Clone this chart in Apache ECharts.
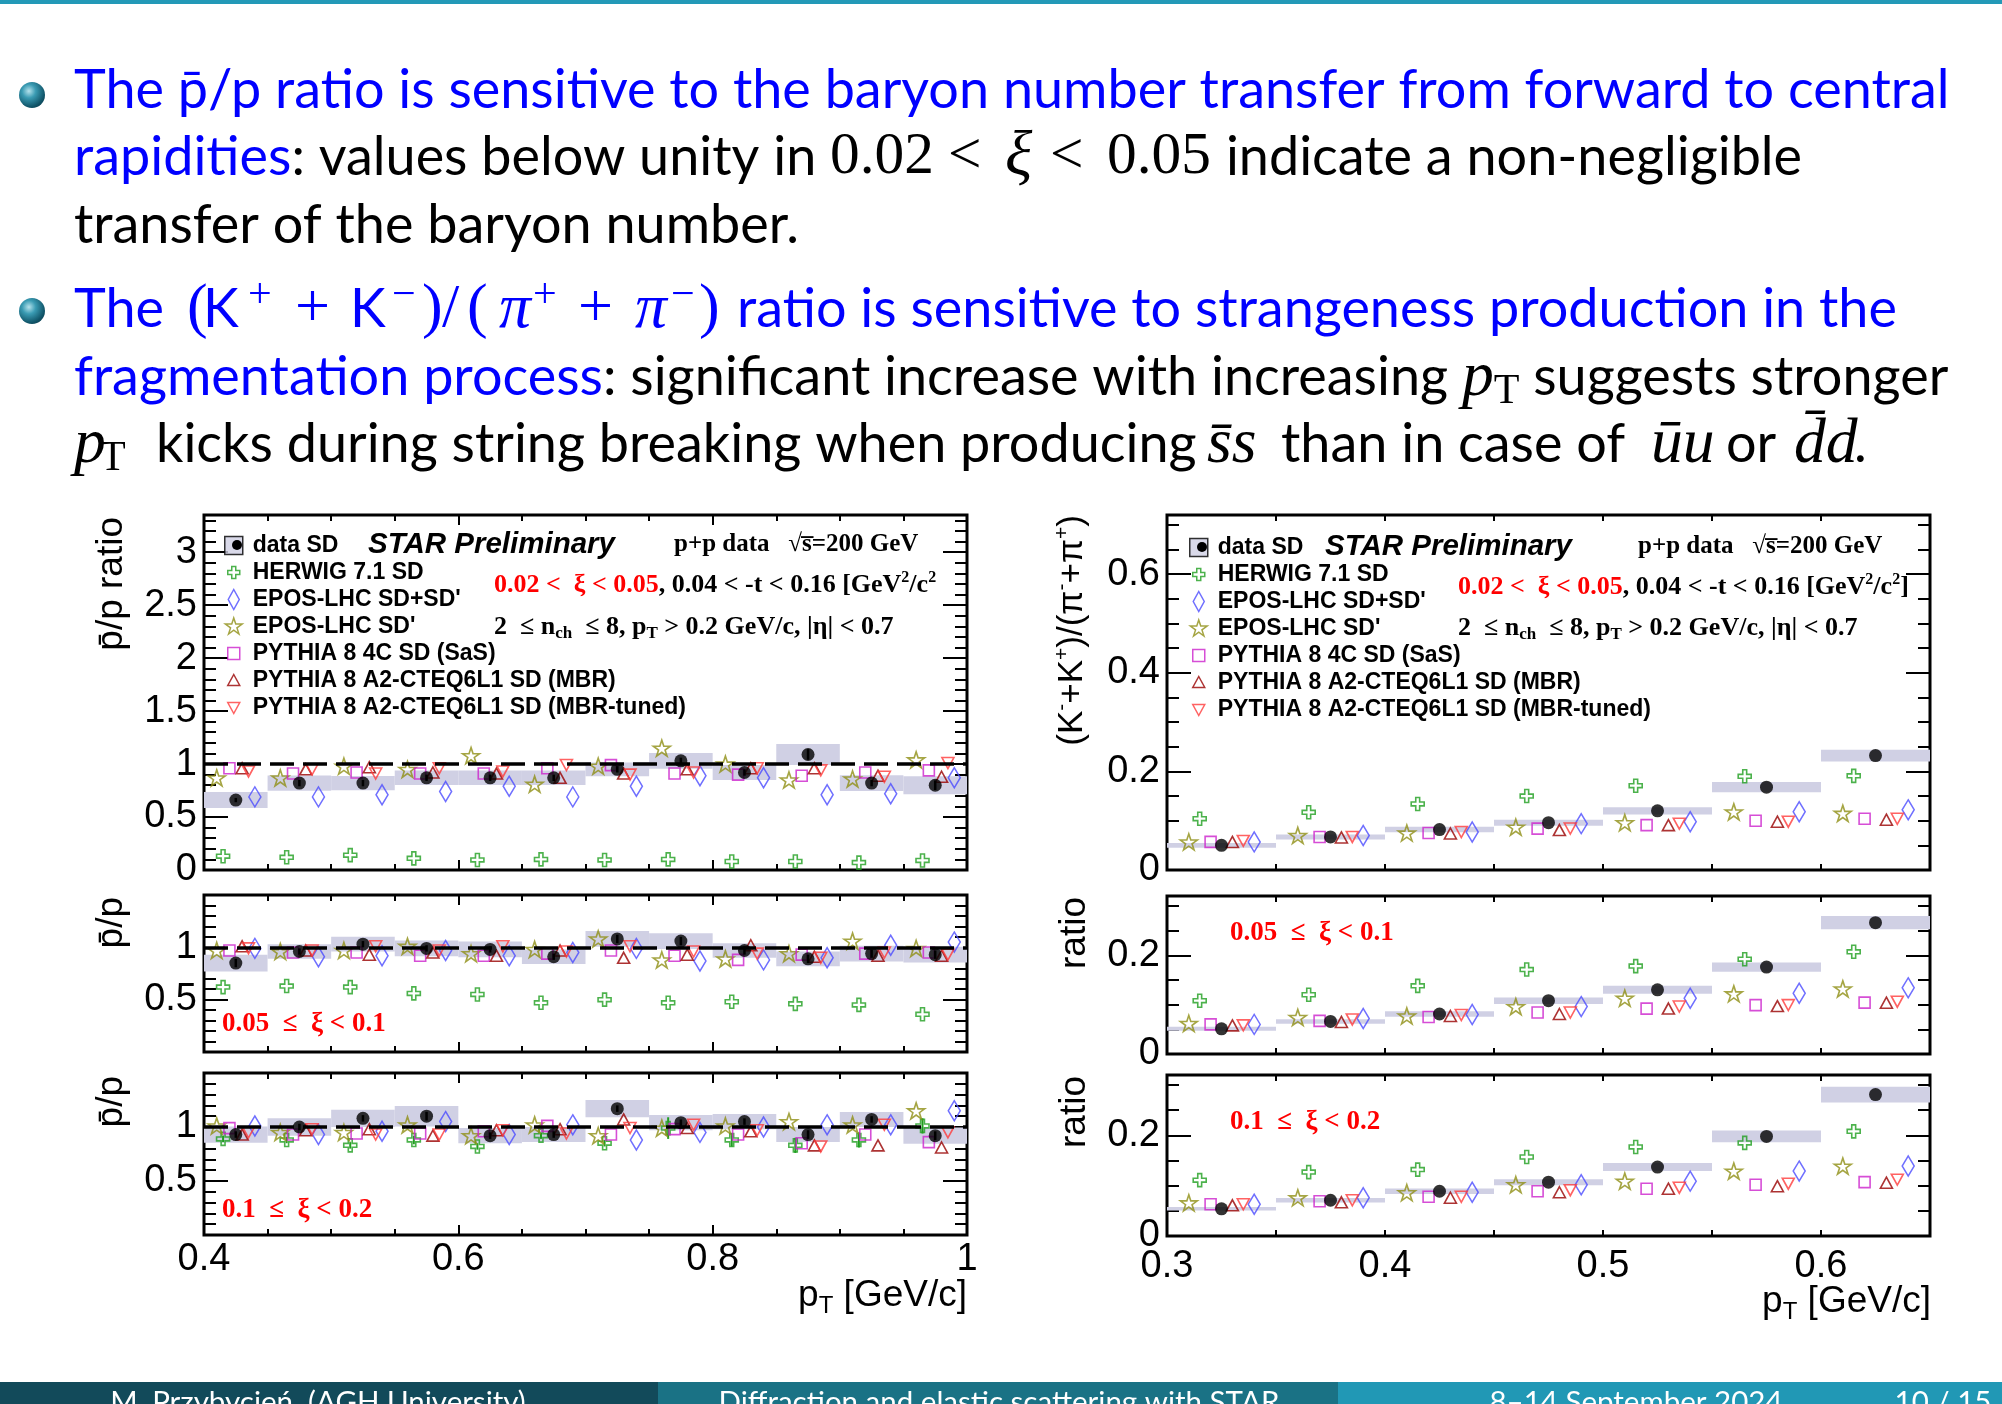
<!DOCTYPE html>
<html>
<head>
<meta charset="utf-8">
<title>STAR SD: p̄/p and (K⁻+K⁺)/(π⁻+π⁺) ratios</title>
<script src="https://cdn.jsdelivr.net/npm/echarts@6.0.0/dist/echarts.min.js"></script>
<style>
html,body{margin:0;padding:0;background:#fff;}
#chart{width:2002px;height:1404px;}
</style>
</head>
<body>
<div id="chart"></div>
<script>
// ================= DATA =================
const ppBinLow = [0.40,0.45,0.50,0.55,0.60,0.65,0.70,0.75,0.80,0.85,0.90,0.95];
const kpBinLow = [0.30,0.35,0.40,0.45,0.50,0.55,0.60];
const binWidth = 0.05;
const dataName = 'data SD';
const modelNames = ['HERWIG 7.1 SD', "EPOS-LHC SD+SD'", "EPOS-LHC SD'", 'PYTHIA 8 4C SD (SaS)', 'PYTHIA 8 A2-CTEQ6L1 SD (MBR)', 'PYTHIA 8 A2-CTEQ6L1 SD (MBR-tuned)'];

// pbar/p, 0.02 < xi < 0.05
const ppXi1Data    = [0.66,0.82,0.82,0.87,0.87,0.87,0.95,1.03,0.92,1.09,0.82,0.80];
const ppXi1Sys     = [0.075,0.072,0.068,0.068,0.068,0.068,0.065,0.075,0.07,0.10,0.075,0.085];
const ppXi1Stat    = [0.02,0.03,0.03,0.03,0.03,0.03,0.03,0.03,0.03,0.05,0.03,0.045];
const ppXi1Herwig  = [0.13,0.12,0.14,0.11,0.095,0.10,0.095,0.10,0.08,0.08,0.07,0.09];
const ppXi1EposAll = [0.69,0.69,0.71,0.74,0.79,0.69,0.79,0.89,0.87,0.71,0.72,0.87];
const ppXi1EposSDp = [0.87,0.87,0.98,0.95,1.08,0.81,0.98,1.15,1.00,0.85,0.86,1.04];
const ppXi1Py4C    = [0.96,0.91,0.92,0.91,0.91,0.96,0.99,0.91,0.90,0.89,0.92,0.94];
const ppXi1PyMBR   = [0.96,0.95,0.97,0.92,0.91,0.87,0.91,0.95,0.96,0.96,0.89,0.88];
const ppXi1PyMBRt  = [0.93,0.95,0.91,0.96,0.93,0.99,0.90,0.92,0.96,0.94,0.88,1.01];

// pbar/p, 0.05 <= xi < 0.1
const ppXi2Data    = [0.85,0.96,1.03,0.99,0.98,0.91,1.08,1.06,0.97,0.89,0.94,0.93];
const ppXi2Sys     = [0.08,0.07,0.07,0.075,0.075,0.07,0.075,0.075,0.07,0.07,0.075,0.075];
const ppXi2Stat    = [0.04,0.03,0.03,0.03,0.03,0.03,0.04,0.04,0.04,0.04,0.04,0.04];
const ppXi2Herwig  = [0.62,0.63,0.62,0.56,0.55,0.47,0.50,0.47,0.48,0.46,0.45,0.36];
const ppXi2EposAll = [0.99,0.91,0.92,0.97,0.92,0.95,0.99,0.87,0.88,0.90,1.02,1.05];
const ppXi2EposSDp = [0.97,0.96,0.97,1.01,0.94,0.98,1.08,0.88,0.89,0.94,1.06,0.99];
const ppXi2Py4C    = [0.97,0.95,0.95,0.92,0.92,0.94,0.97,0.92,0.88,0.93,0.94,0.95];
const ppXi2PyMBR   = [1.01,0.97,0.93,0.95,0.92,0.97,0.90,0.93,1.02,0.91,0.92,0.92];
const ppXi2PyMBRt  = [0.99,0.97,1.01,0.97,1.01,0.96,1.01,0.96,0.94,0.90,0.95,0.93];

// pbar/p, 0.1 <= xi < 0.2
const ppXi3Data    = [0.93,1.00,1.08,1.10,0.92,0.93,1.17,1.04,1.05,0.93,1.07,0.92];
const ppXi3Sys     = [0.075,0.08,0.08,0.095,0.07,0.07,0.08,0.07,0.07,0.07,0.07,0.075];
const ppXi3Stat    = [0.03,0.03,0.03,0.04,0.03,0.03,0.03,0.03,0.03,0.04,0.03,0.04];
const ppXi3Herwig  = [0.89,0.88,0.83,0.88,0.82,0.92,0.85,0.99,0.88,0.83,0.88,1.01];
const ppXi3HerwigErr = [0.03,0.03,0.03,0.04,0.03,0.03,0.03,0.10,0.06,0.07,0.07,0.07];
const ppXi3EposAll = [1.01,0.93,0.96,1.05,0.93,1.02,0.88,0.95,1.00,1.02,1.02,1.15];
const ppXi3EposSDp = [1.01,0.95,0.95,1.02,0.92,1.02,0.92,0.99,1.01,1.05,1.02,1.15];
const ppXi3Py4C    = [0.99,0.93,0.94,0.94,0.96,1.01,0.93,0.98,0.93,0.85,0.93,0.86];
const ppXi3PyMBR   = [0.93,0.97,0.98,0.92,0.97,0.98,1.07,0.99,0.96,0.83,0.83,0.81];
const ppXi3PyMBRt  = [0.95,0.98,0.93,0.93,0.97,0.94,0.99,1.02,0.97,0.82,1.02,0.95];

// (K-+K+)/(pi-+pi+), 0.02 < xi < 0.05
const kpXi1Data    = [0.050,0.067,0.082,0.096,0.120,0.168,0.232];
const kpXi1Sys     = [0.005,0.005,0.0055,0.006,0.0075,0.0105,0.012];
const kpXi1Herwig  = [0.104,0.117,0.134,0.150,0.171,0.190,0.191];
const kpXi1EposAll = [0.057,0.070,0.077,0.094,0.098,0.118,0.122];
const kpXi1EposSDp = [0.057,0.070,0.075,0.087,0.096,0.118,0.115];
const kpXi1Py4C    = [0.057,0.067,0.075,0.084,0.091,0.100,0.104];
const kpXi1PyMBR   = [0.057,0.066,0.074,0.081,0.091,0.098,0.102];
const kpXi1PyMBRt  = [0.059,0.067,0.077,0.084,0.094,0.098,0.104];

// (K-+K+)/(pi-+pi+), 0.05 <= xi < 0.1
const kpXi2Data    = [0.051,0.066,0.081,0.108,0.130,0.176,0.266];
const kpXi2Sys     = [0.004,0.0045,0.0055,0.0065,0.008,0.0095,0.0135];
const kpXi2Herwig  = [0.108,0.120,0.138,0.171,0.178,0.192,0.207];
const kpXi2EposAll = [0.060,0.072,0.080,0.096,0.113,0.123,0.134];
const kpXi2EposSDp = [0.062,0.074,0.077,0.096,0.113,0.122,0.132];
const kpXi2Py4C    = [0.060,0.067,0.075,0.084,0.092,0.099,0.104];
const kpXi2PyMBR   = [0.058,0.065,0.077,0.081,0.092,0.097,0.104];
const kpXi2PyMBRt  = [0.058,0.070,0.079,0.084,0.096,0.099,0.106];

// (K-+K+)/(pi-+pi+), 0.1 <= xi < 0.2
const kpXi3Data    = [0.054,0.071,0.089,0.107,0.137,0.198,0.281];
const kpXi3Sys     = [0.0035,0.0045,0.0055,0.006,0.008,0.0115,0.0155];
const kpXi3Herwig  = [0.111,0.127,0.132,0.157,0.177,0.185,0.208];
const kpXi3EposAll = [0.063,0.076,0.087,0.102,0.109,0.129,0.139];
const kpXi3EposSDp = [0.066,0.076,0.086,0.102,0.109,0.129,0.139];
const kpXi3Py4C    = [0.063,0.069,0.078,0.089,0.094,0.102,0.107];
const kpXi3PyMBR   = [0.061,0.067,0.076,0.087,0.094,0.099,0.106];
const kpXi3PyMBRt  = [0.063,0.071,0.078,0.091,0.096,0.104,0.112];

// ================= STYLE / LAYOUT =================
const crossPath   = 'path://M3.5,0H6.5V3.5H10V6.5H6.5V10H3.5V6.5H0V3.5H3.5Z';
const starPath    = 'path://M50,0L61.2,34.5L97.6,34.5L68.2,55.9L79.4,90.5L50,69.1L20.6,90.5L31.8,55.9L2.4,34.5L38.8,34.5Z';
const diamondPath = 'path://M5,0L10,10L5,20L0,10Z';
const triUpPath   = 'path://M5,0L10,9L0,9Z';
const triDownPath = 'path://M0,0L10,0L5,9Z';
const squarePath  = 'path://M0,0H10V10H0Z';
// legend icons drawn inside a fixed 20x20 box (leading moveTo points fix the box)
const LB = 'path://M0,0M20,20';
const legendIcons = [
  LB + 'M8,4H12V8H16V12H12V16H8V12H4V8H8Z',
  LB + 'M10,0L15.5,10L10,20L4.5,10Z',
  LB + 'M10,1.5L12,7.6L18.4,7.6L13.2,11.4L15.2,17.5L10,13.7L4.8,17.5L6.8,11.4L1.6,7.6L8,7.6Z',
  LB + 'M4,4H16V16H4Z',
  LB + 'M10,4L16,15L4,15Z',
  LB + 'M4,5L16,5L10,16Z'
];
const dataLegendIcon = LB + 'M1,1H19V19H1Z';

const modelStyles = [
  {symbol: crossPath,   size: [13,13], color: '#1f9f1f', off: 0.3},
  {symbol: diamondPath, size: [12,20], color: '#4b4bff', off: 0.8},
  {symbol: starPath,    size: [17,16], color: '#8f8f14', off: 0.2},
  {symbol: squarePath,  size: [11,11], color: '#cc22cc', off: 0.4},
  {symbol: triUpPath,   size: [12,11], color: '#990000', off: 0.6},
  {symbol: triDownPath, size: [12,11], color: '#ff3b3b', off: 0.7}
];
const boxColor = '#d0d0e4';

const axisCfg = {
  ppTop: {x:[0.4,1.0], xMajor:0.2, xMinor:0.05, xLab:false, xMajLen:10, xMinLen:6, xShowMax:true,  y:[0,3.35], yMajor:0.5, yMinor:0.1,  yMinLab:true},
  ppMid: {x:[0.4,1.0], xMajor:0.2, xMinor:0.05, xLab:false, xMajLen:10, xMinLen:6, xShowMax:true,  y:[0,1.5],  yMajor:0.5, yMinor:0.1,  yMinLab:false},
  ppBot: {x:[0.4,1.0], xMajor:0.2, xMinor:0.05, xLab:true,  xMajLen:10, xMinLen:6, xShowMax:true,  y:[0,1.5],  yMajor:0.5, yMinor:0.1,  yMinLab:false, xMargin:6},
  kpTop: {x:[0.3,0.65], xMajor:0.1, xMinor:0.05, xLab:false, xMajLen:6, xMinLen:6, xShowMax:false, y:[0,0.72], yMajor:0.2, yMinor:0.05, yMinLab:true},
  kpMid: {x:[0.3,0.65], xMajor:0.1, xMinor:0.05, xLab:false, xMajLen:6, xMinLen:6, xShowMax:false, y:[0,0.32], yMajor:0.2, yMinor:0.05, yMinLab:true},
  kpBot: {x:[0.3,0.65], xMajor:0.1, xMinor:0.05, xLab:true,  xMajLen:6, xMinLen:6, xShowMax:false, y:[0,0.32], yMajor:0.2, yMinor:0.05, yMinLab:true, xMargin:12}
};

const panels = [
  {box:[204,515,763,355], axes:'ppTop', bins:ppBinLow, data:ppXi1Data, sys:ppXi1Sys, stat:ppXi1Stat, unity:true,
   models:[ppXi1Herwig,ppXi1EposAll,ppXi1EposSDp,ppXi1Py4C,ppXi1PyMBR,ppXi1PyMBRt]},
  {box:[204,895,763,157], axes:'ppMid', bins:ppBinLow, data:ppXi2Data, sys:ppXi2Sys, stat:ppXi2Stat, unity:true,
   models:[ppXi2Herwig,ppXi2EposAll,ppXi2EposSDp,ppXi2Py4C,ppXi2PyMBR,ppXi2PyMBRt]},
  {box:[204,1073,763,162], axes:'ppBot', bins:ppBinLow, data:ppXi3Data, sys:ppXi3Sys, stat:ppXi3Stat, unity:true, herwigErr:ppXi3HerwigErr,
   models:[ppXi3Herwig,ppXi3EposAll,ppXi3EposSDp,ppXi3Py4C,ppXi3PyMBR,ppXi3PyMBRt]},
  {box:[1167,515,763,355], axes:'kpTop', bins:kpBinLow, data:kpXi1Data, sys:kpXi1Sys,
   models:[kpXi1Herwig,kpXi1EposAll,kpXi1EposSDp,kpXi1Py4C,kpXi1PyMBR,kpXi1PyMBRt]},
  {box:[1167,896,763,158], axes:'kpMid', bins:kpBinLow, data:kpXi2Data, sys:kpXi2Sys,
   models:[kpXi2Herwig,kpXi2EposAll,kpXi2EposSDp,kpXi2Py4C,kpXi2PyMBR,kpXi2PyMBRt]},
  {box:[1167,1075,763,161], axes:'kpBot', bins:kpBinLow, data:kpXi3Data, sys:kpXi3Sys,
   models:[kpXi3Herwig,kpXi3EposAll,kpXi3EposSDp,kpXi3Py4C,kpXi3PyMBR,kpXi3PyMBRt]}
];

// ================= BUILD =================
const ROOTF = 'Liberation Sans', SERIF = 'Liberation Serif', SANS = 'Lato';
const labelStyle = {fontFamily: ROOTF, fontSize: 38, color: '#000'};
const xAxes = [], yAxes = [], grids = [], series = [];

function tick(len) { return {show:true, inside:true, length:len, lineStyle:{color:'#000', width:2}}; }
function addAxes(gi, a) {
  const xi = xAxes.length, yi = yAxes.length;
  const base = {type:'value', gridIndex:gi, axisLine:{show:false, onZero:false}, splitLine:{show:false}, minorTick:{show:false}, silent:true};
  const noLab = {show:false};
  xAxes.push(Object.assign({}, base, {position:'bottom', min:a.x[0], max:a.x[1], interval:a.xMajor, axisTick:tick(a.xMajLen),
    axisLabel: a.xLab ? Object.assign({show:true, margin:a.xMargin, showMinLabel:true, showMaxLabel:a.xShowMax}, labelStyle) : noLab}));
  xAxes.push(Object.assign({}, base, {position:'bottom', min:a.x[0], max:a.x[1], interval:a.xMinor, axisTick:tick(a.xMinLen), axisLabel:noLab}));
  xAxes.push(Object.assign({}, base, {position:'top', min:a.x[0], max:a.x[1], interval:a.xMajor, axisTick:tick(a.xMajLen), axisLabel:noLab}));
  xAxes.push(Object.assign({}, base, {position:'top', min:a.x[0], max:a.x[1], interval:a.xMinor, axisTick:tick(a.xMinLen), axisLabel:noLab}));
  yAxes.push(Object.assign({}, base, {position:'left', min:a.y[0], max:a.y[1], interval:a.yMajor, axisTick:tick(24),
    axisLabel: Object.assign({show:true, margin:7, showMinLabel:a.yMinLab, showMaxLabel:false}, labelStyle)}));
  yAxes.push(Object.assign({}, base, {position:'left', min:a.y[0], max:a.y[1], interval:a.yMinor, axisTick:tick(12), axisLabel:noLab}));
  yAxes.push(Object.assign({}, base, {position:'right', min:a.y[0], max:a.y[1], interval:a.yMajor, axisTick:tick(24), axisLabel:noLab}));
  yAxes.push(Object.assign({}, base, {position:'right', min:a.y[0], max:a.y[1], interval:a.yMinor, axisTick:tick(12), axisLabel:noLab}));
  return {xi, yi};
}

function boxRender(params, api) {
  const lo = api.value(0), hi = api.value(1), y = api.value(2), s = api.value(3);
  const a = api.coord([lo, y + s]), b = api.coord([hi, y - s]);
  return {type:'rect', shape:{x:a[0], y:a[1], width:b[0]-a[0], height:b[1]-a[1]}, style:{fill:boxColor}};
}
function errRenderer(color, width) {
  return function (params, api) {
    const x = api.value(0), y = api.value(1), e = api.value(2);
    const a = api.coord([x, y + e]), b = api.coord([x, y - e]);
    return {type:'line', shape:{x1:a[0], y1:a[1], x2:b[0], y2:b[1]}, style:{stroke:color, lineWidth:width}};
  };
}

panels.forEach((p, gi) => {
  const a = axisCfg[p.axes];
  grids.push({left:p.box[0], top:p.box[1], width:p.box[2], height:p.box[3], show:true, borderColor:'#000', borderWidth:3,
              backgroundColor:'rgba(0,0,0,0)', containLabel:false, outerBoundsMode:'none'});
  const {xi, yi} = addAxes(gi, a);
  const w = binWidth;
  series.push({type:'custom', name:'data SD (sys.)', xAxisIndex:xi, yAxisIndex:yi, z:1, silent:true, clip:true,
    renderItem: boxRender, encode:{x:[0,1], y:2},
    data: p.bins.map((lo, i) => [lo, lo + w, p.data[i], p.sys[i]])});
  modelStyles.forEach((ms, m) => {
    const s = {type:'scatter', name:modelNames[m], xAxisIndex:xi, yAxisIndex:yi, z:3, silent:true,
      symbol:ms.symbol, symbolSize:ms.size,
      itemStyle:{color:'rgba(255,255,255,0)', borderColor:ms.color, borderWidth:1.6},
      data: p.bins.map((lo, i) => [lo + ms.off * w, p.models[m][i]])};
    if (m === 0 && p.unity) {
      s.markLine = {silent:true, symbol:['none','none'], label:{show:false}, animation:false,
        lineStyle:{color:'#000', width:3.5, type:[24,9]}, data:[{yAxis:1}]};
    }
    series.push(s);
    if (m === 0 && p.herwigErr) {
      series.push({type:'custom', name:'HERWIG err', xAxisIndex:xi, yAxisIndex:yi, z:2, silent:true,
        renderItem: errRenderer(ms.color, 2), encode:{x:0, y:1},
        data: p.bins.map((lo, i) => [lo + ms.off * w, p.models[m][i], p.herwigErr[i]])});
    }
  });
  if (p.stat) {
    series.push({type:'custom', name:'data SD (stat.)', xAxisIndex:xi, yAxisIndex:yi, z:4, silent:true,
      renderItem: errRenderer('#000', 2.5), encode:{x:0, y:1},
      data: p.bins.map((lo, i) => [lo + 0.5 * w, p.data[i], p.stat[i]])});
  }
  series.push({type:'scatter', name:dataName, xAxisIndex:xi, yAxisIndex:yi, z:5, silent:true,
    symbol:'circle', symbolSize:13, itemStyle:{color:'#000'},
    data: p.bins.map((lo, i) => [lo + 0.5 * w, p.data[i]])});
});

// legends
const legendItems = [{name:dataName, icon:dataLegendIcon, itemStyle:{color:boxColor, borderColor:'#000', borderWidth:1.5}}]
  .concat(modelNames.map((n, m) => ({name:n, icon:legendIcons[m],
    itemStyle:{color:'rgba(255,255,255,0)', borderColor:modelStyles[m].color, borderWidth:1.5}})));
const legendBase = {orient:'vertical', padding:0, itemGap:4, itemWidth:28, itemHeight:20, selectedMode:false,
  textStyle:{fontFamily:ROOTF, fontWeight:'bold', fontSize:23, color:'#000', lineHeight:22}, data:legendItems};
const legends = [
  Object.assign({}, legendBase, {left:223, top:534}),
  Object.assign({}, legendBase, {left:1188, top:536})
];

// ================= GRAPHIC TEXT =================
const G = [];
function T(x, y, text, style, extra) {
  return Object.assign({type:'text', x:x, y:y, z:60, silent:true, style:Object.assign({text:text}, style)}, extra || {});
}
G.push({type:'rect', silent:true, z:10, shape:{x:0, y:0, width:2002, height:4}, style:{fill:'#2399b7'}});

// slide bullets
function fitSize(text, family, target) {
  const c = document.createElement('canvas').getContext('2d');
  c.font = '100px ' + family;
  return 100 * target / c.measureText(text).width;
}
const line1 = 'The p\u0304/p ratio is sensitive to the baryon number transfer from forward to central';
const fs = Math.min(60, Math.max(40, fitSize(line1, SANS, 1876)));
const LH = Math.round(fs * 1.3);
const BLUE = '#0000ff';
const slideRich = {
  b:   {fill:BLUE, fontFamily:SANS, fontSize:fs, lineHeight:LH},
  k:   {fill:'#000', fontFamily:SANS, fontSize:fs, lineHeight:LH},
  m:   {fill:'#000', fontFamily:SERIF, fontSize:fs*1.1, lineHeight:LH},
  mi:  {fill:'#000', fontFamily:SERIF, fontStyle:'italic', fontSize:fs*1.18, lineHeight:LH},
  mb:  {fill:BLUE, fontFamily:SERIF, fontSize:fs*1.15, lineHeight:LH},
  mbi: {fill:BLUE, fontFamily:SERIF, fontStyle:'italic', fontSize:fs*1.18, lineHeight:LH},
  sup: {fill:BLUE, fontFamily:SERIF, fontSize:fs*0.78, lineHeight:fs*0.78, verticalAlign:'top'},
  sub: {fill:'#000', fontFamily:SERIF, fontSize:fs*0.78, lineHeight:fs*0.78, verticalAlign:'bottom'}
};
let wCount = 0;
function seq(parts) {
  return parts.map(pt => {
    const st = pt[0], text = pt[1], w = pt[2];
    if (w == null) return '{' + st + '|' + text + '}';
    const name = 'w' + (wCount++);
    slideRich[name] = Object.assign({}, slideRich[st], {width: w});
    return '{' + name + '|' + text + '}';
  }).join('');
}
const slideLines = [
  seq([['b', line1]]),
  seq([['b','rapidities'], ['k',': values below unity in '], ['m','0.02',118], ['m','<',57], ['mi','\u03be',45], ['m','<',57], ['m','0.05',105],
       ['k',' indicate a non-negligible']]),
  seq([['k','transfer of the baryon number.']]),
  seq([['b','The',113], ['mb','(',16], ['b','K',45], ['sup','+',47], ['mb','+',55], ['b','K',42], ['sup','\u2212',30], ['mb',')',20],
       ['mb','/',25], ['mb','(',32], ['mbi','\u03c0',34], ['sup','+',45], ['mb','+',57], ['mbi','\u03c0',36], ['sup','\u2212',28], ['mb',')',38],
       ['b','ratio is sensitive to strangeness production in the']]),
  seq([['b','fragmentation process'], ['k',': significant increase with increasing '], ['mi','p'], ['sub','T'], ['k',' suggests stronger']]),
  seq([['mi','p',26], ['sub','T',56], ['k','kicks during string breaking when producing',1051], ['mi','s\u0304s',74],
       ['k','than in case of',370], ['mi','u\u0304u',75], ['k','or',68], ['mi','d\u0304d',60], ['k','.']])
];
const baselines = [107, 174, 242, 326, 394, 461];
slideLines.forEach((t, i) => {
  G.push(T(74, baselines[i] - 0.3 * fs, t, {rich:slideRich, align:'left', verticalAlign:'middle'}));
});
[95, 311].forEach(cy => {
  G.push({type:'circle', silent:true, z:60, shape:{cx:32, cy:cy, r:13},
    style:{fill:{type:'radial', x:0.38, y:0.35, r:0.75, colorStops:[
      {offset:0, color:'#b5e2ec'}, {offset:0.35, color:'#3a9bb3'}, {offset:0.8, color:'#11566a'}, {offset:1, color:'#0b3f4f'}]}}});
});

// axis titles (rotated, ROOT style)
const titleRich = {
  a: {fill:'#000', fontFamily:ROOTF, fontSize:37, lineHeight:44},
  t: {fill:'#000', fontFamily:ROOTF, fontSize:35, lineHeight:40},
  s: {fill:'#000', fontFamily:ROOTF, fontSize:21, lineHeight:21, verticalAlign:'top'},
  d: {fill:'#000', fontFamily:ROOTF, fontSize:24, lineHeight:24, verticalAlign:'bottom'}
};
const rot = {rotation: Math.PI / 2};
const rotStyle = {rich:titleRich, align:'right', verticalAlign:'middle'};
G.push(T(112, 517, '{a|p\u0304/p ratio}', rotStyle, rot));
G.push(T(112, 897, '{a|p\u0304/p}', rotStyle, rot));
G.push(T(112, 1076, '{a|p\u0304/p}', rotStyle, rot));
G.push(T(1072, 515, '{t|(K}{s|-}{t|+K}{s|+}{t|)/(\u03c0}{s|-}{t|+\u03c0}{s|+}{t|)}', rotStyle, rot));
G.push(T(1075, 897, '{a|ratio}', rotStyle, rot));
G.push(T(1075, 1076, '{a|ratio}', rotStyle, rot));
G.push(T(967, 1296, '{a|p}{d|T}{a| [GeV/c]}', {rich:titleRich, align:'right', verticalAlign:'middle'}));
G.push(T(1931, 1302, '{a|p}{d|T}{a| [GeV/c]}', {rich:titleRich, align:'right', verticalAlign:'middle'}));

// ROOT panel header texts
const rootRich = {
  r:  {fill:'#ff0000', fontFamily:SERIF, fontWeight:'bold', fontSize:26, lineHeight:30},
  k:  {fill:'#000', fontFamily:SERIF, fontWeight:'bold', fontSize:26, lineHeight:30},
  h:  {fill:'#000', fontFamily:SERIF, fontWeight:'bold', fontSize:25, lineHeight:30},
  sp: {fill:'#000', fontFamily:SERIF, fontWeight:'bold', fontSize:16, lineHeight:16, verticalAlign:'top'},
  sb: {fill:'#000', fontFamily:SERIF, fontWeight:'bold', fontSize:17, lineHeight:17, verticalAlign:'bottom'}
};
const starStyle = {fill:'#000', fontFamily:ROOTF, fontWeight:'bold', fontStyle:'italic', fontSize:29.5, align:'left', verticalAlign:'middle'};
const headers = [
  {star:368, pp:674, sel:494, y:[545, 585, 627], close:''},
  {star:1325, pp:1638, sel:1458, y:[547, 587, 628], close:']'}
];
headers.forEach(h => {
  G.push(T(h.star, h.y[0], 'STAR Preliminary', starStyle));
  G.push(T(h.pp, h.y[0], '{h|p+p data   \u221As\u0305=200 GeV}', {rich:rootRich, align:'left', verticalAlign:'middle'}));
  G.push(T(h.sel, h.y[1], '{r|0.02 <  \u03be < 0.05}{k|, 0.04 < -t < 0.16 [GeV}{sp|2}{k|/c}{sp|2}{k|' + h.close + '}',
    {rich:rootRich, align:'left', verticalAlign:'middle'}));
  G.push(T(h.sel, h.y[2], '{k|2  \u2264 n}{sb|ch}{k|  \u2264 8, p}{sb|T}{k| > 0.2 GeV/c, |\u03b7| < 0.7}',
    {rich:rootRich, align:'left', verticalAlign:'middle'}));
});
G.push({type:'circle', silent:true, z:80, shape:{cx:237, cy:545, r:5}, style:{fill:'#000'}});
G.push({type:'circle', silent:true, z:80, shape:{cx:1202, cy:547, r:5}, style:{fill:'#000'}});

// red xi-range labels
const redStyle = {fill:'#ff0000', fontFamily:SERIF, fontWeight:'bold', fontSize:27, align:'left', verticalAlign:'middle'};
G.push(T(222, 1024, '0.05  \u2264  \u03be < 0.1', redStyle));
G.push(T(222, 1210, '0.1  \u2264  \u03be < 0.2', redStyle));
G.push(T(1230, 933, '0.05  \u2264  \u03be < 0.1', redStyle));
G.push(T(1230, 1122, '0.1  \u2264  \u03be < 0.2', redStyle));

// footer
G.push({type:'rect', silent:true, z:10, shape:{x:0, y:1382, width:658, height:22}, style:{fill:'#124a5a'}});
G.push({type:'rect', silent:true, z:10, shape:{x:658, y:1382, width:680, height:22}, style:{fill:'#1a7285'}});
G.push({type:'rect', silent:true, z:10, shape:{x:1338, y:1382, width:664, height:22}, style:{fill:'#2198b5'}});
const footStyle = {fill:'#fff', fontFamily:SANS, fontSize:29.5, align:'center', verticalAlign:'middle'};
G.push(T(318, 1402, 'M. Przybycie\u0144  (AGH University)', footStyle));
G.push(T(999, 1402, 'Diffraction and elastic scattering with STAR', footStyle));
G.push(T(1636, 1402, '8\u201314 September 2024', footStyle));
G.push(T(1943, 1402, '10 / 15', footStyle));

// ================= RENDER =================
const chart = echarts.init(document.getElementById('chart'), null, {renderer:'canvas', width:2002, height:1404});
chart.setOption({
  animation:false,
  backgroundColor:'#ffffff',
  grid:grids,
  xAxis:xAxes,
  yAxis:yAxes,
  legend:legends,
  tooltip:{show:false},
  series:series,
  graphic:{elements:G}
});
</script>
</body>
</html>
